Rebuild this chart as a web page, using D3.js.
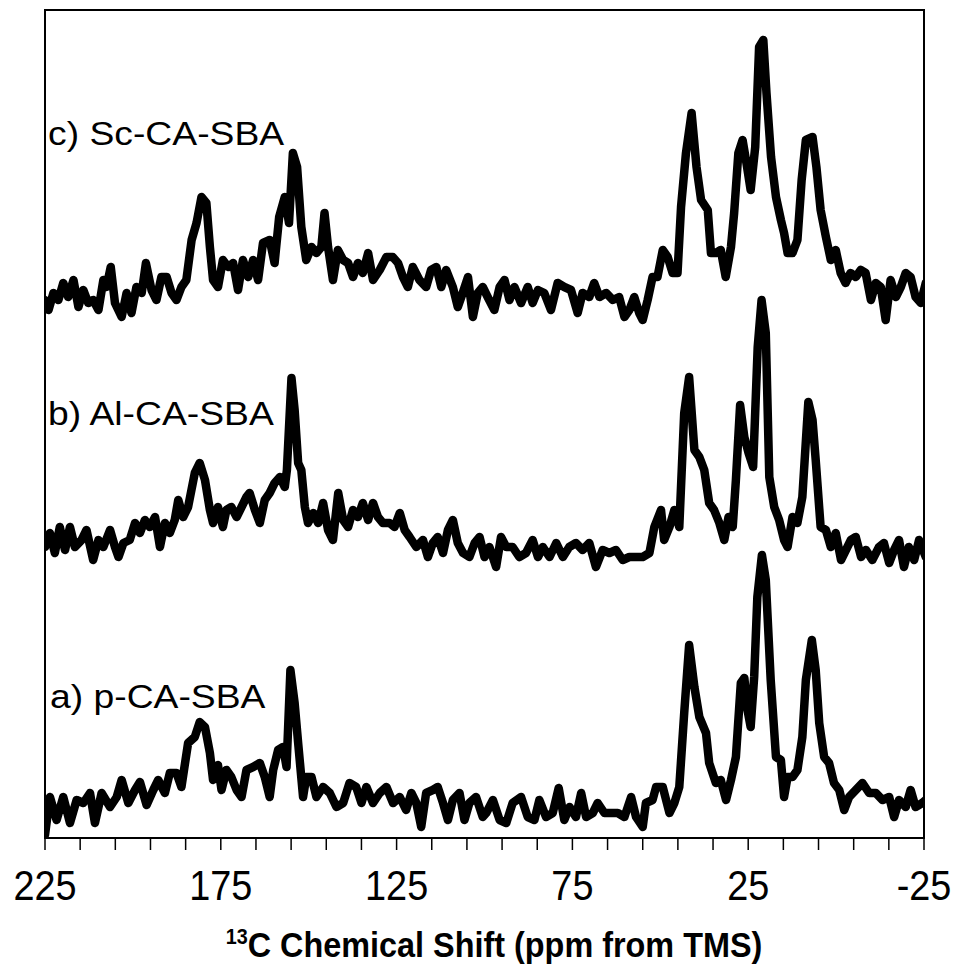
<!DOCTYPE html>
<html><head><meta charset="utf-8">
<script src="https://cdn.jsdelivr.net/npm/d3@7"></script>
<style>body{margin:0;background:#fff}svg{display:block}text{font-family:"Liberation Sans",Arial,sans-serif;fill:#000}</style>
</head><body><div id="chart"></div>
<script>
// ---- data (ppm, relative intensity) ----
const seriesNames = ["a) p-CA-SBA", "b) Al-CA-SBA", "c) Sc-CA-SBA"];
const seriesOffsets = [38, 293, 543];

const ppmA = [225,223.6,221.7,219.8,217.9,216,214.1,212.2,210.8,208.9,206.5,204.6,203.2,201.3,199.4,198,196.1,194.2,192.8,190.9,189.5,187.6,186.2,184.3,182.4,181,179.5,178.1,177.2,175.8,174.8,173.4,172,170.5,169.1,167.7,165.8,163.9,162.5,161.1,160.1,158.7,157.3,156.3,155.2,154,153,151.6,150.7,149.2,147.8,145.9,144,142.1,140.2,138.4,136.5,135,133.6,131.7,129.8,127.9,126,124.1,122.3,120.8,119.4,118,116.6,114.7,113.3,111.8,110.4,109,107.1,105.7,104.3,102.4,100.5,99.5,97.6,95.7,93.8,92,89.6,87.7,85.8,84.4,82.5,80.6,78.9,77.3,75.8,74,72.5,71.1,69.2,67.8,65.9,64,62.1,60.2,58.3,56.9,55,54.1,52.2,51.2,49.3,47.4,46,44.6,43.2,41.8,40.3,38.9,37,36.1,34.2,32.8,31.3,29.9,28.5,27.1,26.1,25.2,24.3,23.3,22.4,21.1,20,18.6,17.1,15.7,14.8,13.8,12.4,11,9.6,8.6,6.9,5.8,4.8,3.4,2,0.6,-0.9,-2.3,-3.7,-5.6,-7.5,-9.4,-11.3,-13.2,-15.1,-16.5,-17.9,-19.8,-21.2,-22.6,-24.5,-25.5];
const intA = [-35,3,-20,3,-23,0,-3,7,-23,7,-7,3,20,-3,10,18,-5,10,20,7,27,27,13,57,63,78,73,47,20,35,10,30,23,10,3,30,33,37,23,3,30,50,53,33,130,97,57,3,23,23,3,13,7,-7,-3,17,13,-3,13,-3,7,13,-3,3,-10,7,-3,-27,7,10,13,-3,-20,0,7,-20,-3,3,-17,-13,0,-20,-23,-3,3,-17,-20,0,-17,-13,12,-20,-7,-17,7,-17,-13,-3,-13,-13,-13,-17,3,-17,-27,-3,0,13,13,-13,-3,13,87,155,113,83,67,37,17,20,0,20,43,117,122,90,73,123,203,245,220,120,43,40,3,23,23,30,63,120,160,130,77,43,37,17,10,-10,3,10,17,7,7,0,3,-17,0,-7,10,-7,-3,0];

const ppmB = [225,223.6,222.2,220.8,219.3,217.9,216.5,214.6,213.2,211.3,209.8,208.4,206.5,205.1,204.1,202.7,200.9,199.4,198,196.6,195.2,193.7,192.3,190.9,189.5,188.1,187.1,185.7,184.3,182.4,181,179.5,178.1,177.2,175.8,174.4,173.4,172,170.5,169.1,167.7,166.8,165.3,163.9,162.5,161.1,159.7,158.2,156.8,156.2,154.9,154,153,152.1,151.1,150.2,148.7,147.3,145.9,144.5,143.1,141.6,140.2,138.8,137.4,136,134.6,133.1,131.7,130.3,128.9,127,125.6,124.1,122.7,121.3,119.4,117.5,116.1,114.7,113.3,111.8,110.4,109,107.6,106.1,104.3,102.8,101.4,100,98.6,96.7,95.3,93.8,92,90.1,88.2,86.3,84.8,83.4,81.5,79.6,77.7,75.9,74,72.1,70.2,68.3,66.4,64.5,62.6,60.7,58.8,56.9,55,53.1,51.7,49.8,48.9,47.4,46,44.6,43.2,41.8,40.3,38.9,37.5,36.1,34.7,33.2,31.8,30.6,29.4,28.5,27.3,26.1,24.9,23.6,22.3,21.2,20,19,17.6,16.2,14.8,13.8,12.4,11,9.6,7.9,6.7,5.8,4.4,2.9,1.5,0.1,-1.4,-2.8,-4.2,-5.6,-7.1,-8.5,-10.3,-12.2,-13.6,-15.1,-16.5,-17.9,-19.3,-20.7,-22.2,-23.6,-25.5];
const intB = [-2,12,-8,18,-5,18,-2,5,15,-15,5,-2,15,-2,-12,2,5,22,12,25,18,28,-2,22,12,25,45,28,38,72,82,65,35,22,38,18,35,38,28,38,48,52,35,22,45,52,62,68,58,75,167,135,82,75,38,22,32,22,42,15,5,52,25,18,35,28,42,25,42,28,22,22,18,32,15,8,-2,5,-12,2,8,-8,15,25,2,-8,-12,2,8,-12,-2,-22,8,-2,-2,-12,-8,5,-12,-2,-12,2,-12,-2,2,-5,2,-22,-5,-8,-5,-15,-12,-12,-12,-8,18,35,5,18,35,18,132,168,95,88,75,42,35,22,5,28,18,65,140,108,92,78,198,245,212,68,38,25,5,-2,28,22,48,143,125,85,18,15,-2,12,-15,-5,5,8,-12,-5,-15,-2,2,-18,-5,5,-22,-2,-15,5,-12];

const ppmC = [225,224,222.6,221.2,219.8,218.4,216.9,215.5,214.1,212.7,211.3,209.8,208.4,207.5,206.3,205.1,203.2,201.8,200.4,199,197.5,196.3,194.7,193.3,191.9,190.4,189,187.6,186.2,184.8,183.3,181.9,180.5,179.1,178.1,177.2,175.8,174.4,172.9,171.5,170.1,168.7,167.2,165.8,164.4,163,161.1,159.7,158.4,156.8,155.6,154.5,153.3,152.1,150.7,149.2,147.8,146.4,145.5,144.5,143.1,141.7,140.2,138.8,137.4,136,134.6,133.1,131.7,129.8,127.9,126.1,124.6,123.2,121.8,120.4,118.5,116.6,115.2,113.7,112.3,110.9,109,107.6,106.2,104.7,103.3,101.9,100.5,99.1,97.2,95.7,94.3,92.9,91.5,89.6,87.7,86.3,84.8,83,81.1,79.2,77.3,75.4,73.5,72.1,70.2,68.8,67.3,65.4,63.5,61.7,60.2,58.8,57.4,56,55,53.6,52.2,50.8,49.3,47.9,46.5,45.1,44.1,42.7,41.1,39.7,38.4,36.5,35.6,34.2,32.8,31.4,29.9,29,27.8,26.6,25.5,24.3,23,21.9,20.7,19.8,18.5,17.1,15.7,14.8,13.8,12.4,11,9.8,8.6,6.7,5.6,4.4,2.9,1.5,0.1,-1.3,-2.7,-4.1,-5.6,-7,-8.4,-9.9,-11.3,-12.7,-14.1,-15.5,-17,-18.4,-19.8,-21.2,-22.6,-24.1,-25.5];
const intC = [-5,-15,2,-5,12,-2,15,-12,5,-8,-5,-15,15,8,28,-8,-22,2,-18,8,2,32,5,-5,18,18,2,-5,8,15,55,72,98,92,48,15,8,35,28,32,5,35,18,35,15,52,55,32,78,98,72,142,128,68,35,48,42,48,82,48,15,45,35,32,18,32,22,42,15,25,38,38,32,18,8,28,15,8,25,28,8,25,8,-12,2,18,-22,2,8,-2,-15,8,15,-5,8,-8,8,-8,5,2,-15,12,8,5,-18,2,-2,12,-2,2,-5,-2,-22,-15,-2,-18,-25,-5,18,18,45,38,22,22,88,142,182,128,95,85,42,42,45,18,48,82,142,155,132,105,148,248,255,202,138,98,75,62,42,42,55,115,155,158,128,85,58,35,45,22,12,22,18,25,22,-5,12,8,-25,15,-2,8,22,18,-2,-8,12];

const xDomain = [225, -25];
const tickValues = [225, 175, 125, 75, 25, -25];
const minorStep = 10;

// ---- layout ----
const W = 963, H = 975;
const L = 45, R = 924, T = 10, B = 838;

const svg = d3.select("#chart").append("svg").attr("width", W).attr("height", H);
const x = d3.scaleLinear().domain(xDomain).range([L, R]);
const y = d3.scaleLinear().domain([0, B - T]).range([B, T]);

svg.append("clipPath").attr("id", "clip").append("rect")
  .attr("x", L).attr("y", T).attr("width", R - L).attr("height", B - T);

const data = [[ppmA, intA], [ppmB, intB], [ppmC, intC]];
const line = d3.line().x(d => x(d[0])).y(d => y(d[1]));

data.forEach(([p, v], i) => {
  const pts = p.map((pp, k) => [pp, v[k] + seriesOffsets[i]]);
  svg.append("path").datum(pts)
    .attr("clip-path", "url(#clip)")
    .attr("d", line)
    .attr("fill", "none").attr("stroke", "#000")
    .attr("stroke-width", 8.5).attr("stroke-linejoin", "round").attr("stroke-linecap", "round");
});

// frame
svg.append("rect").attr("x", L).attr("y", T).attr("width", R - L).attr("height", B - T)
  .attr("fill", "none").attr("stroke", "#000").attr("stroke-width", 2);

// ticks
const minor = d3.range(xDomain[0], xDomain[1] - 0.1, -minorStep);
svg.selectAll("line.tick").data(minor).enter().append("line")
  .attr("x1", d => x(d)).attr("x2", d => x(d)).attr("y1", B).attr("y2", B + 12)
  .attr("stroke", "#000").attr("stroke-width", 1.5);

svg.selectAll("text.tl").data(tickValues).enter().append("text")
  .attr("class", "tl")
  .attr("transform", d => `translate(${x(d)},900) scale(0.88,1)`)
  .attr("text-anchor", "middle").attr("font-size", 43)
  .text(d => d);

// axis title
const title = svg.append("text")
  .attr("transform", `translate(494,957) scale(0.9,1)`)
  .attr("text-anchor", "middle").attr("font-size", 36).attr("font-weight", "bold");
title.append("tspan").attr("font-size", 22).attr("dy", -13).text("13");
title.append("tspan").attr("dy", 13).text("C Chemical Shift (ppm from TMS)");

// series labels
const labelPos = [[50, 708], [48, 425], [48, 145]];
seriesNames.forEach((n, i) => {
  svg.append("text")
    .attr("transform", `translate(${labelPos[i][0]},${labelPos[i][1]}) scale(1.13,1)`)
    .attr("font-size", 33).text(n);
});
</script></body></html>
